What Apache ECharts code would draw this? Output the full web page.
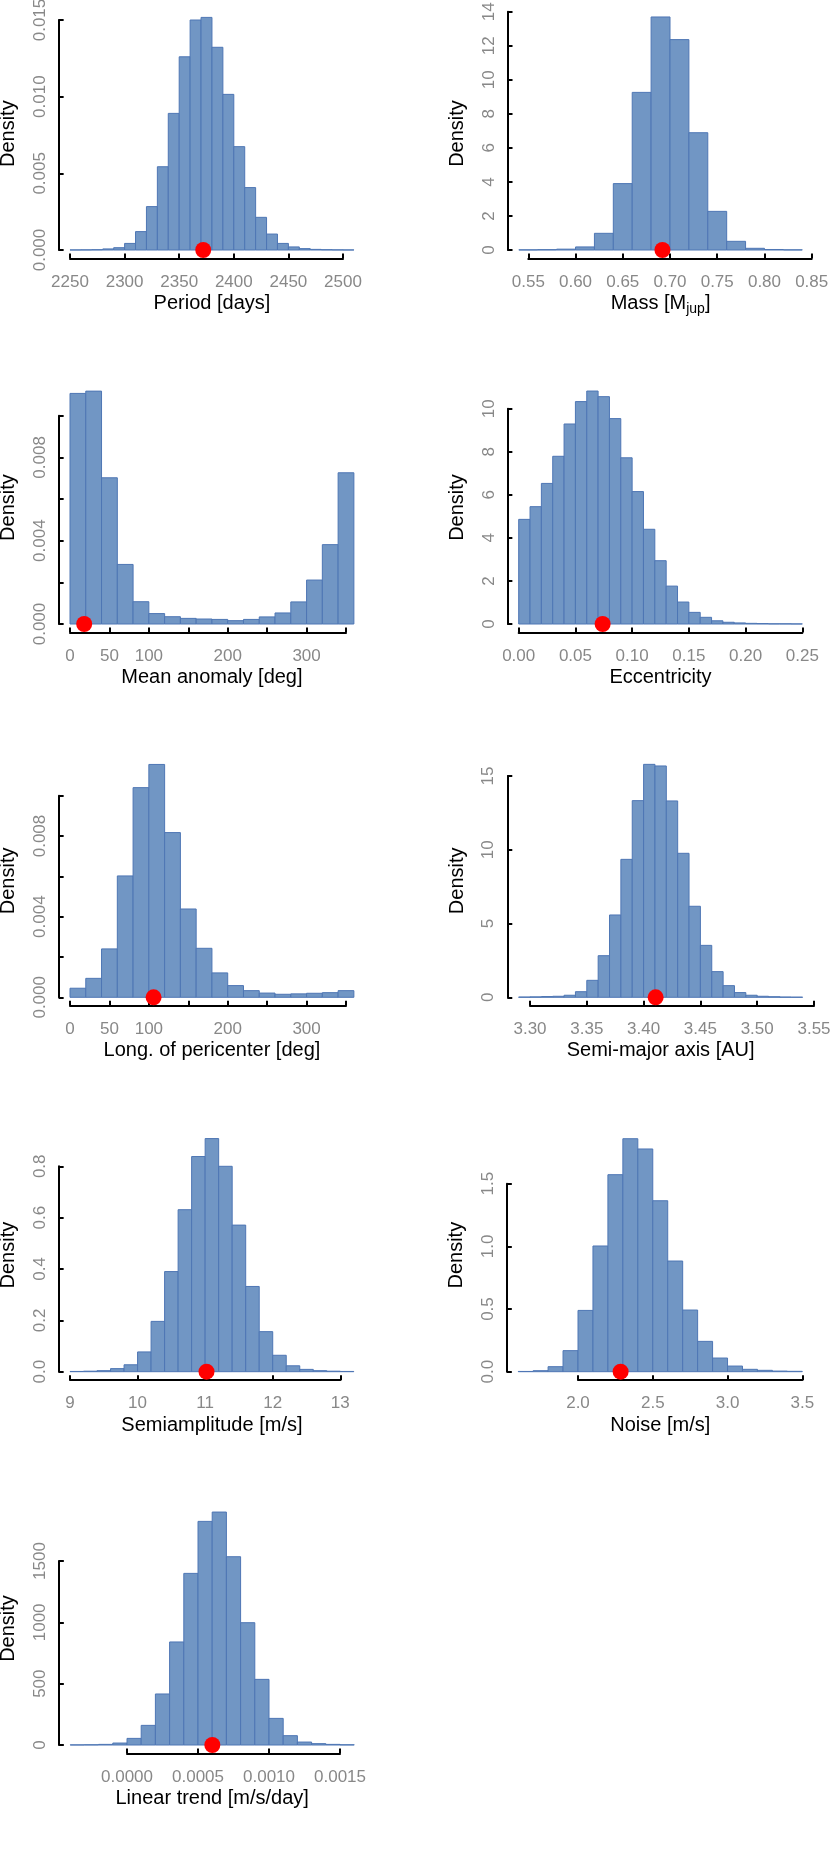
<!DOCTYPE html>
<html>
<head>
<meta charset="utf-8">
<title>Posterior histograms</title>
<script src="https://cdn.jsdelivr.net/npm/echarts@6/dist/echarts.min.js"></script>
<style>
  html, body { margin: 0; padding: 0; background: #fff; }
  #main { width: 830px; height: 1852px; }
</style>
</head>
<body>
<div id="main"></div>
<script type="text/javascript">
// densities per bin (bin start, bin width, heights)
var periodStart = 2250, periodStep = 10;
var periodDensity = [0.000005, 0.00001, 0.00002, 0.00007, 0.00015, 0.00043, 0.0012, 0.00283, 0.00543, 0.00891,
  0.0126, 0.0150, 0.01517, 0.01322, 0.01015, 0.00674, 0.00407, 0.00213, 0.00104, 0.00043,
  0.0002, 0.00009, 0.00004, 0.00002, 0.00001, 0.000005];
var periodBest = 2372;

var massStart = 0.54, massStep = 0.02;
var massDensity = [0.01, 0.02, 0.05, 0.18, 0.98, 3.90, 9.26, 13.69, 12.36, 6.89, 2.27, 0.51, 0.10, 0.03, 0.01];
var massBest = 0.692;

var anomalyStart = 0, anomalyStep = 20;
var anomalyDensity = [0.01107, 0.01118, 0.00702, 0.00286, 0.00107, 0.0005, 0.00035, 0.00027, 0.00024,
  0.00022, 0.00016, 0.00022, 0.00034, 0.00053, 0.00106, 0.00211, 0.00381, 0.00726];
var anomalyBest = 18;

var eccStart = 0, eccStep = 0.01;
var eccDensity = [4.86, 5.45, 6.53, 7.79, 9.29, 10.33, 10.82, 10.56, 9.54, 7.72, 6.15, 4.40, 2.94, 1.76,
  1.02, 0.54, 0.31, 0.15, 0.08, 0.05, 0.03, 0.02, 0.01, 0.01, 0.005];
var eccBest = 0.074;

var periStart = 0, periStep = 20;
var periDensity = [0.00045, 0.00094, 0.0024, 0.00602, 0.0104, 0.01155, 0.00817, 0.00438, 0.00243,
  0.00121, 0.00058, 0.00033, 0.00021, 0.00015, 0.00017, 0.0002, 0.00023, 0.00033];
var periBest = 106;

var axisStart = 3.29, axisStep = 0.01;
var axisDensity = [0.02, 0.03, 0.05, 0.07, 0.14, 0.38, 1.15, 2.82, 5.58, 9.35, 13.33, 15.79, 15.68, 13.31,
  9.76, 6.17, 3.52, 1.74, 0.79, 0.32, 0.14, 0.07, 0.04, 0.02, 0.01];
var axisBest = 3.4106;

var ampStart = 9.0, ampStep = 0.2;
var ampDensity = [0.001, 0.002, 0.004, 0.012, 0.027, 0.077, 0.196, 0.39, 0.631, 0.838, 0.908, 0.80,
  0.571, 0.332, 0.156, 0.064, 0.023, 0.009, 0.004, 0.002, 0.001];
var ampBest = 11.02;

var noiseStart = 1.6, noiseStep = 0.1;
var noiseDensity = [0.002, 0.008, 0.04, 0.168, 0.489, 1.003, 1.572, 1.859, 1.777, 1.364, 0.883, 0.492,
  0.242, 0.109, 0.045, 0.019, 0.011, 0.005, 0.003];
var noiseBest = 2.285;

var trendStart = -0.0004, trendStep = 0.0001;
var trendDensity = [1, 2, 5, 16, 54, 160, 416, 840, 1399, 1823, 1899, 1535, 997, 535, 217, 76, 24, 11, 5, 2];
var trendBest = 0.000601;

// tick ranges [min, max, step]
var periodX = [2250, 2500, 50], periodY = [0, 0.015, 0.005];
var massX = [0.55, 0.85, 0.05], massY = [0, 14, 2];
var anomalyX = [0, 350, 50], anomalyY = [0, 0.010, 0.002];
var eccX = [0, 0.25, 0.05], eccY = [0, 10, 2];
var periX = [0, 350, 50], periY = [0, 0.010, 0.002];
var axisX = [3.30, 3.55, 0.05], axisY = [0, 15, 5];
var ampX = [9, 13, 1], ampY = [0, 0.8, 0.2];
var noiseX = [2.0, 3.5, 0.5], noiseY = [0, 1.5, 0.5];
var trendX = [0, 0.0015, 0.0005], trendY = [0, 1500, 500];

// labels that are printed where the others would collide
var degLabels = [0, 50, 100, 200, 300];
var degDensityLabels = [0, 0.004, 0.008];

var barFill = '#7196c4', barEdge = '#4e76b4';
var font = 'Liberation Sans, Arial, Helvetica, sans-serif';

function fixed(d) {
  return function (v) { return v.toFixed(d); };
}
function only(list, d) {
  return function (v) {
    for (var i = 0; i < list.length; i++) {
      if (Math.abs(v - list[i]) < 1e-9) return v.toFixed(d);
    }
    return '';
  };
}

var panels = [
  {title: 'Period [days]', start: periodStart, step: periodStep, dens: periodDensity, best: periodBest,
    xt: periodX, yt: periodY, xf: fixed(0), yf: fixed(3)},
  {title: 'Mass [M{sub|jup}]', start: massStart, step: massStep, dens: massDensity, best: massBest,
    xt: massX, yt: massY, xf: fixed(2), yf: fixed(0), sub: true},
  {title: 'Mean anomaly [deg]', start: anomalyStart, step: anomalyStep, dens: anomalyDensity, best: anomalyBest,
    xt: anomalyX, yt: anomalyY, xf: only(degLabels, 0), yf: only(degDensityLabels, 3)},
  {title: 'Eccentricity', start: eccStart, step: eccStep, dens: eccDensity, best: eccBest,
    xt: eccX, yt: eccY, xf: fixed(2), yf: fixed(0)},
  {title: 'Long. of pericenter [deg]', start: periStart, step: periStep, dens: periDensity, best: periBest,
    xt: periX, yt: periY, xf: only(degLabels, 0), yf: only(degDensityLabels, 3)},
  {title: 'Semi-major axis [AU]', start: axisStart, step: axisStep, dens: axisDensity, best: axisBest,
    xt: axisX, yt: axisY, xf: fixed(2), yf: fixed(0)},
  {title: 'Semiamplitude [m/s]', start: ampStart, step: ampStep, dens: ampDensity, best: ampBest,
    xt: ampX, yt: ampY, xf: fixed(0), yf: fixed(1)},
  {title: 'Noise [m/s]', start: noiseStart, step: noiseStep, dens: noiseDensity, best: noiseBest,
    xt: noiseX, yt: noiseY, xf: fixed(1), yf: fixed(1)},
  {title: 'Linear trend [m/s/day]', start: trendStart, step: trendStep, dens: trendDensity, best: trendBest,
    xt: trendX, yt: trendY, xf: fixed(4), yf: fixed(0)}
];

// pixel box of each panel's tick range: left, top, width, height
var boxes = [
  [70, 20, 273, 230],
  [528.3, 11.7, 283.4, 238.3],
  [70, 415.7, 276, 208.3],
  [518.7, 408.7, 283.6, 215.3],
  [70, 795.7, 276, 201.6],
  [530, 776, 284, 221.3],
  [70, 1166.3, 270.3, 205.4],
  [578, 1183.7, 224.3, 188],
  [127, 1561, 213, 184]
];

function renderBar(params, api) {
  var a = api.coord([api.value(0), api.value(2)]);
  var b = api.coord([api.value(1), 0]);
  return {
    type: 'rect',
    shape: {x: a[0], y: a[1], width: b[0] - a[0], height: b[1] - a[1]},
    style: {fill: barFill, stroke: barEdge, lineWidth: 1}
  };
}

function pad(d) {
  // shift a centred text along its reading direction by d px
  return d >= 0 ? [0, 0, 0, 2 * d] : [0, -2 * d, 0, 0];
}

var grids = [], xAxes = [], yAxes = [], series = [];

panels.forEach(function (p, i) {
  var b = boxes[i];
  var x0 = p.start, x1 = p.start + p.step * p.dens.length;
  var ext = 0.04 * (x1 - x0);
  var xPx = b[2] / (p.xt[1] - p.xt[0]);
  var yPx = b[3] / (p.yt[1] - p.yt[0]);
  var peak = Math.max.apply(null, p.dens);
  var dx = ((x0 + x1) / 2 - (p.xt[0] + p.xt[1]) / 2) * xPx;
  var dy = (peak / 2 - p.yt[1] / 2) * yPx;

  grids.push({left: b[0], top: b[1], width: b[2], height: b[3], containLabel: false, outerBoundsMode: 'none'});

  xAxes.push({
    gridIndex: i, type: 'value', min: p.xt[0], max: p.xt[1], interval: p.xt[2],
    offset: 8.5,
    axisLine: {show: true, onZero: false, lineStyle: {color: '#000', width: 2}},
    axisTick: {show: true, inside: true, length: 5, lineStyle: {color: '#000', width: 2}},
    axisLabel: {color: '#888', fontSize: 17, fontFamily: font, margin: 15, formatter: p.xf,
      showMinLabel: true, showMaxLabel: true},
    splitLine: {show: false},
    name: p.title, nameLocation: 'middle', nameGap: p.sub ? 32 : 35, nameMoveOverlap: false,
    nameTextStyle: {color: '#000', fontSize: 20, fontFamily: font, padding: pad(dx),
      rich: {sub: {color: '#000', fontSize: 14, fontFamily: font, padding: [12, 0, 0, 0]}}}
  });

  yAxes.push({
    gridIndex: i, type: 'value', min: p.yt[0], max: p.yt[1], interval: p.yt[2],
    offset: (p.xt[0] - (x0 - ext)) * xPx,
    axisLine: {show: true, onZero: false, lineStyle: {color: '#000', width: 2}},
    axisTick: {show: true, inside: true, length: 5, lineStyle: {color: '#000', width: 2}},
    axisLabel: {color: '#888', fontSize: 17, fontFamily: font, margin: 10, rotate: 90, formatter: p.yf,
      showMinLabel: true, showMaxLabel: true},
    splitLine: {show: false},
    name: 'Density', nameLocation: 'middle', nameGap: 40, nameRotate: 90, nameMoveOverlap: false,
    nameTextStyle: {color: '#000', fontSize: 20, fontFamily: font, padding: pad(dy)}
  });

  var rows = p.dens.map(function (d, k) {
    return [x0 + k * p.step, x0 + (k + 1) * p.step, d];
  });
  series.push({
    type: 'custom', xAxisIndex: i, yAxisIndex: i, data: rows,
    encode: {x: [0, 1], y: 2}, renderItem: renderBar, clip: false, silent: true
  });
  series.push({
    type: 'scatter', xAxisIndex: i, yAxisIndex: i, data: [[p.best, 0]],
    symbol: 'circle', symbolSize: 16, itemStyle: {color: '#ff0000', opacity: 1},
    clip: false, silent: true, z: 5
  });
});

var myChart = echarts.init(document.getElementById('main'), null, {renderer: 'canvas'});
myChart.setOption({
  animation: false,
  backgroundColor: '#fff',
  textStyle: {fontFamily: font},
  grid: grids,
  xAxis: xAxes,
  yAxis: yAxes,
  series: series
});
</script>
</body>
</html>
